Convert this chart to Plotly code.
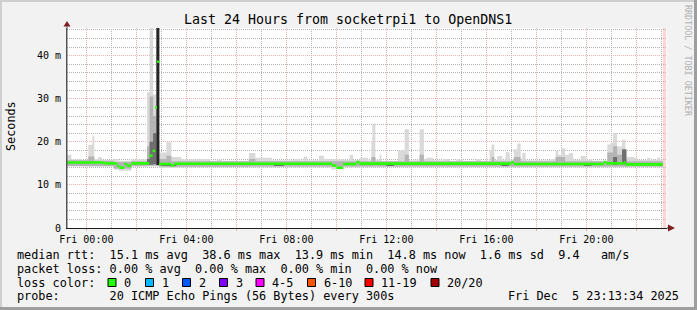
import plotly.graph_objects as go

# ---------------- data ----------------
title_text = "Last 24 Hours from socketrpi1 to OpenDNS1"
y_title = "Seconds"
now_h = 23 + 13 / 60 + 34 / 3600          # Fri 23:13:34, hours after Fri 00:00
x_range = [now_h - 24, now_h]
y_top = 46.43

x_grid_hours = [0, 2, 4, 6, 8, 10, 12, 14, 16, 18, 20, 22]
x_label_hours = [0, 4, 8, 12, 16, 20]
x_tick_labels = ["Fri 00:00", "Fri 04:00", "Fri 08:00", "Fri 12:00", "Fri 16:00", "Fri 20:00"]
y_tick_vals = [0, 10, 20, 30, 40]
y_tick_labels = ["0", "10 m", "20 m", "30 m", "40 m"]

# median rtt (ms): step start hour and value; last step ends at data_end
med_t = [-0.77, 0.72, 1.23, 1.32, 1.52, 1.63, 1.80, 2.52, 2.65, 2.75, 2.83, 2.92, 3.39, 3.52,
         9.83, 10.00, 10.27, 10.80, 10.92, 17.00, 17.10, 20.70, 20.80, 21.50, 21.56]
med_v = [15.22, 15.00, 14.40, 14.00, 14.85, 14.45, 15.00, 16.80, 17.90, 28.00, 38.60, 14.85, 14.55, 14.90,
         14.50, 14.00, 14.85, 15.30, 14.95, 15.30, 14.85, 15.30, 15.00, 15.25, 14.78]
data_end = 23.06
unknown_span = [23.06, 23.19]

# smoke layers: (step start hour, low ms, high ms)
smoke_outer = [
    (-0.77, 14.3, 17.0), (-0.60, 14.3, 15.9), (-0.26, 14.3, 16.0), (-0.16, 14.3, 15.8),
    (0.08, 14.2, 19.3), (0.24, 14.2, 21.5), (0.32, 14.2, 16.0), (0.48, 14.2, 16.5),
    (0.60, 14.2, 15.8), (1.10, 13.6, 16.0), (1.30, 13.3, 15.6), (1.80, 14.2, 15.9),
    (2.43, 14.3, 31.5), (2.53, 14.3, 47.0), (2.67, 14.3, 31.0), (2.80, 14.3, 47.0),
    (2.92, 14.0, 17.5), (3.20, 14.0, 19.9), (3.40, 14.0, 16.5), (3.80, 14.1, 15.9),
    (4.56, 14.1, 16.0), (4.96, 14.1, 15.6), (5.23, 14.1, 15.9), (5.43, 14.1, 15.6),
    (6.50, 14.1, 17.4), (6.76, 14.1, 16.3), (7.43, 14.1, 15.7), (8.30, 14.1, 16.0),
    (8.56, 14.1, 15.7), (8.70, 14.1, 16.6), (8.83, 14.1, 15.7), (9.30, 14.1, 16.8),
    (9.50, 14.1, 16.0), (9.80, 13.6, 15.9), (10.30, 14.1, 15.8), (10.53, 14.1, 17.0),
    (10.67, 14.1, 15.8), (10.93, 14.1, 16.3), (11.27, 14.1, 15.7), (11.40, 14.1, 20.0),
    (11.44, 14.1, 24.2), (11.56, 14.1, 15.8), (11.73, 14.1, 17.0), (11.80, 14.1, 15.6),
    (12.47, 14.1, 18.0), (12.73, 14.1, 22.9), (12.90, 14.1, 15.7), (13.33, 14.1, 22.9),
    (13.50, 14.1, 16.0), (13.60, 14.1, 16.3), (13.87, 14.1, 15.7), (14.27, 14.1, 16.0),
    (14.53, 14.1, 15.6), (14.80, 14.1, 15.9), (15.07, 14.1, 15.6), (15.57, 14.1, 16.0),
    (15.77, 14.1, 15.6), (16.13, 14.1, 18.0), (16.21, 14.1, 19.4), (16.32, 14.1, 15.8),
    (16.44, 14.1, 16.7), (16.64, 14.1, 15.8), (16.77, 14.1, 17.6), (16.93, 14.1, 15.8),
    (17.10, 14.1, 18.3), (17.24, 14.1, 19.6), (17.37, 14.1, 15.9), (17.44, 14.1, 17.4),
    (17.57, 14.1, 15.7), (18.57, 14.1, 16.0), (18.77, 14.1, 18.0), (18.88, 14.1, 17.0),
    (19.00, 14.1, 18.5), (19.15, 14.1, 17.0), (19.30, 14.1, 17.4), (19.47, 14.1, 15.8),
    (19.77, 14.1, 16.7), (19.97, 14.1, 15.8), (20.10, 14.1, 16.0), (20.24, 14.1, 15.6),
    (20.84, 14.1, 19.4), (20.96, 14.1, 19.8), (21.07, 14.1, 22.0), (21.23, 14.1, 19.0),
    (21.29, 14.1, 18.9), (21.43, 14.1, 20.5), (21.56, 14.1, 18.0), (21.63, 14.1, 16.5),
    (21.90, 14.1, 16.3), (22.03, 14.1, 15.8), (22.43, 14.1, 16.3), (22.56, 14.1, 15.8),
    (22.83, 14.1, 16.3), (22.96, 14.1, 15.8),
]
smoke_mid = [
    (-0.77, 14.4, 15.7), (0.08, 14.4, 16.6), (0.32, 14.4, 15.6), (1.10, 13.8, 15.3),
    (1.80, 14.4, 15.5), (2.43, 14.5, 19.0), (2.53, 14.5, 30.5), (2.67, 14.5, 26.0),
    (2.80, 14.5, 20.0), (2.92, 14.2, 16.0), (3.20, 14.2, 16.8), (3.40, 14.2, 15.5),
    (6.50, 14.3, 16.0), (6.76, 14.3, 15.5), (11.40, 14.3, 16.5), (11.56, 14.3, 15.5),
    (12.73, 14.3, 17.0), (12.90, 14.3, 15.5), (13.33, 14.3, 17.0), (13.50, 14.3, 15.5),
    (16.21, 14.3, 16.5), (16.32, 14.3, 15.5), (17.10, 14.3, 16.5), (17.37, 14.3, 15.5),
    (18.77, 14.3, 16.5), (19.15, 14.3, 15.5), (20.84, 14.3, 17.5), (21.07, 14.3, 19.0),
    (21.23, 14.3, 17.0), (21.43, 14.3, 18.0), (21.56, 14.3, 16.0), (21.63, 14.3, 15.5),
]
smoke_dark = [
    (-0.77, 14.5, 14.5), (2.43, 14.6, 16.0), (2.53, 14.7, 20.0), (2.67, 14.8, 22.0),
    (2.80, 14.5, 14.5), (3.00, 14.4, 14.7), (3.60, 14.5, 14.5), (7.50, 14.4, 14.7),
    (7.90, 14.5, 14.5), (12.00, 14.4, 14.7), (12.30, 14.5, 14.5), (16.60, 14.4, 14.7),
    (16.90, 14.5, 14.5), (19.90, 14.4, 14.7), (20.20, 14.5, 14.5), (21.07, 14.6, 16.5),
    (21.23, 14.6, 14.6), (21.43, 14.8, 18.3), (21.60, 14.6, 14.6), (22.90, 14.4, 14.7),
]
smoke_core = [(2.80, 14.6, 47.0)]
core_end = 2.92

stat_rtt = [15.1, 38.6, 13.9, 14.8, 1.6]
stat_amps = 9.4
stat_loss = [0.00, 0.00, 0.00, 0.00]
loss_labels = ["0", "1", "2", "3", "4-5", "6-10", "11-19", "20/20"]
loss_colors = ["#26ff00", "#00b8ff", "#0059ff", "#7e00ff", "#ff00ff", "#ff5500", "#ff0000", "#a00000"]
probe_text = "20 ICMP Echo Pings (56 Bytes) every 300s"
stamp_text = "Fri Dec  5 23:13:34 2025"
watermark = "RRDTOOL / TOBI OETIKER"

# ---------------- layout helpers ----------------
W, H = 697, 310
PL, PR, PT, PB = 67, 667, 28, 228
MONO = "DejaVu Sans Mono"


def xp(px):
    return (px - PL) / (PR - PL)


def yp(py):
    return (PB - py) / (PB - PT)


def nb(s):
    return s.replace(" ", "\u00a0")


fig = go.Figure()

grid_minor = "#b4b4b4"
grid_major = "rgba(222,79,79,0.45)"
dash = "1px,1px"

# minor (grey, dotted) grid, snapped to pixel centres so the dots stay crisp
x_per_px = (x_range[1] - x_range[0]) / (PR - PL)
y_per_px = y_top / (PB - PT)


def snap_x(h):
    px = PL + (h - x_range[0]) / x_per_px
    return x_range[0] + (int(px) + 0.5 - PL) * x_per_px


def snap_y(v):
    py = PB - v / y_per_px
    return (PB - (int(py) + 0.5)) * y_per_px


x_minor_vals = [h for h in range(0, 24) if h not in x_grid_hours and x_range[0] < h < x_range[1]]
y_minor_vals = [v for v in range(0, 47, 2) if v not in y_tick_vals]
gx, gy = [], []
for h in x_minor_vals:
    gx += [snap_x(h), snap_x(h), None]
    gy += [0, y_top, None]
for v in y_minor_vals:
    gx += [x_range[0], x_range[1], None]
    gy += [snap_y(v), snap_y(v), None]
fig.add_trace(go.Scatter(x=gx, y=gy, mode="lines", line=dict(color=grid_minor, width=1, dash=dash),
                         connectgaps=False, hoverinfo="skip", showlegend=False))


def add_band(layer, end, color):
    t = [r[0] for r in layer] + [end]
    lo = [r[1] for r in layer]
    hi = [r[2] for r in layer]
    lo = lo + [lo[-1]]
    hi = hi + [hi[-1]]
    fig.add_trace(go.Scatter(x=t, y=lo, mode="lines", line=dict(width=0, shape="hv"),
                             hoverinfo="skip", showlegend=False))
    fig.add_trace(go.Scatter(x=t, y=hi, mode="lines", line=dict(width=0, shape="hv"),
                             fill="tonexty", fillcolor=color, hoverinfo="skip", showlegend=False))


add_band(smoke_outer, data_end, "#d9d9d9")
add_band(smoke_mid, data_end, "#b4b4b4")
add_band(smoke_dark, data_end, "#6e6e6e")
add_band(smoke_core, core_end, "#242424")

# median as horizontal step pieces (no vertical connectors)
mx, my = [], []
ends = med_t[1:] + [data_end]
for a, b, v in zip(med_t, ends, med_v):
    mx += [a, b, None]
    my += [v, v, None]
fig.add_trace(go.Scatter(x=mx, y=my, mode="lines", line=dict(color=loss_colors[0], width=2.6),
                         connectgaps=False, hoverinfo="skip", showlegend=False))

x_ticktext = [x_tick_labels[x_label_hours.index(h)] if h in x_label_hours else "" for h in x_grid_hours]

tick_font = dict(family=MONO, size=10, color="black")
fig.update_layout(
    xaxis=dict(range=x_range, tickmode="array", tickvals=x_grid_hours, ticktext=x_ticktext,
               showgrid=True, gridcolor=grid_major, griddash=dash, gridwidth=1,
               ticks="outside", ticklen=2, tickcolor=grid_major,
               showline=True, linecolor="#1f1f1f", linewidth=1, zeroline=False,
               tickfont=tick_font, fixedrange=True),
    yaxis=dict(range=[0, y_top], tickmode="array", tickvals=y_tick_vals, ticktext=y_tick_labels,
               showgrid=True, gridcolor=grid_major, griddash=dash, gridwidth=1,
               ticks="outside", ticklen=3, tickcolor="rgba(0,0,0,0)",
               showline=True, linecolor="#555555", linewidth=1, zeroline=False,
               tickfont=tick_font, fixedrange=True),
)

shapes = []
# unknown / current-time band
shapes.append(dict(type="rect", xref="x", yref="paper", x0=unknown_span[0], x1=unknown_span[1],
                   y0=0, y1=1, fillcolor="#ffd6d6", line=dict(width=0), layer="below"))
# frame (3D look)
shapes.append(dict(type="rect", xref="paper", yref="paper", x0=xp(0), x1=xp(W), y0=yp(0), y1=yp(2),
                   fillcolor="#cfcfcf", line=dict(width=0), layer="below"))
shapes.append(dict(type="rect", xref="paper", yref="paper", x0=xp(0), x1=xp(2), y0=yp(0), y1=yp(H),
                   fillcolor="#cfcfcf", line=dict(width=0), layer="below"))
shapes.append(dict(type="rect", xref="paper", yref="paper", x0=xp(W - 3), x1=xp(W), y0=yp(0), y1=yp(H),
                   fillcolor="#9e9e9e", line=dict(width=0), layer="below"))
shapes.append(dict(type="rect", xref="paper", yref="paper", x0=xp(0), x1=xp(W), y0=yp(H - 3), y1=yp(H),
                   fillcolor="#9e9e9e", line=dict(width=0), layer="below"))
# axis arrows
arrow_col = "#801f1f"
shapes.append(dict(type="path", xref="paper", yref="paper",
                   path=f"M {xp(63.5)} {yp(26.5)} L {xp(70.5)} {yp(26.5)} L {xp(67)} {yp(21)} Z",
                   fillcolor=arrow_col, line=dict(width=0)))
shapes.append(dict(type="path", xref="paper", yref="paper",
                   path=f"M {xp(668)} {yp(224.5)} L {xp(668)} {yp(231.5)} L {xp(675)} {yp(228)} Z",
                   fillcolor=arrow_col, line=dict(width=0)))
shapes.append(dict(type="line", xref="paper", yref="paper", x0=xp(667), x1=xp(669), y0=yp(228), y1=yp(228),
                   line=dict(color="#1f1f1f", width=1)))
shapes.append(dict(type="line", xref="paper", yref="paper", x0=xp(67), x1=xp(67), y0=yp(228), y1=yp(26),
                   line=dict(color="#555555", width=1)))

# loss color swatches
box_x = [108, 145.5, 182.5, 219.5, 256, 307.5, 365, 431]
for bx, col in zip(box_x, loss_colors):
    shapes.append(dict(type="rect", xref="paper", yref="paper", x0=xp(bx), x1=xp(bx + 8),
                       y0=yp(286.5), y1=yp(278.5), fillcolor=col, line=dict(color="black", width=1)))

ann = []
ann.append(dict(text=nb(title_text), x=xp(347.5), y=yp(19), xref="paper", yref="paper",
                xanchor="center", yanchor="middle", showarrow=False,
                font=dict(family=MONO, size=13.3, color="black")))
ann.append(dict(text=nb(y_title), x=xp(11), y=yp(126), xref="paper", yref="paper", textangle=-90,
                xanchor="center", yanchor="middle", showarrow=False,
                font=dict(family=MONO, size=11.8, color="black")))
ann.append(dict(text=nb(watermark), x=xp(688), y=yp(61), xref="paper", yref="paper", textangle=90,
                xanchor="center", yanchor="middle", showarrow=False,
                font=dict(family=MONO, size=8.4, color="#b0b0b0")))

line1 = ("median rtt:  %.1f ms avg  %.1f ms max  %.1f ms min  %.1f ms now  %.1f ms sd  %.1f   am/s"
         % (stat_rtt[0], stat_rtt[1], stat_rtt[2], stat_rtt[3], stat_rtt[4], stat_amps))
line2 = ("packet loss: %.2f %% avg  %.2f %% max  %.2f %% min  %.2f %% now"
         % tuple(stat_loss))
line4 = "probe:       " + probe_text
legend_font = dict(family=MONO, size=11.83, color="black")
for txt, cy in [(line1, 255), (line2, 268.5), ("loss color:", 282.5), (line4, 296)]:
    ann.append(dict(text=nb(txt), x=xp(15), y=yp(cy), xref="paper", yref="paper",
                    xanchor="left", yanchor="middle", showarrow=False, font=legend_font))
for bx, lab in zip(box_x, loss_labels):
    ann.append(dict(text=nb(lab), x=xp(bx + 14), y=yp(282.5), xref="paper", yref="paper",
                    xanchor="left", yanchor="middle", showarrow=False, font=legend_font))
ann.append(dict(text=nb(stamp_text), x=xp(681), y=yp(296), xref="paper", yref="paper",
                xanchor="right", yanchor="middle", showarrow=False, font=legend_font))

fig.update_layout(width=W, height=H, margin=dict(l=PL, r=W - PR, t=PT, b=H - PB, pad=0),
                  paper_bgcolor="#f2f2f2", plot_bgcolor="white", showlegend=False,
                  shapes=shapes, annotations=ann, hovermode=False)

fig.write_html("out.html", config={"displayModeBar": False})
